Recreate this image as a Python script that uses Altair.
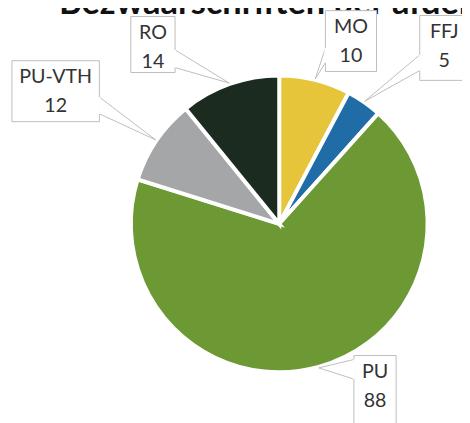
import altair as alt
import pandas as pd
import numpy as np

# ---- data ----
labels = ["MO", "FFJ", "PU", "PU-VTH", "RO"]
values = [10, 5, 88, 12, 14]
colors = ["#E6C53A", "#1F6CA6", "#6C9934", "#A4A6A8", "#1B2B20"]
title_text = "Bezwaarschriften per afdeling"

# ---- layout (pixels in chart coordinates) ----
W, H = 462, 415
CX, CY, R = 276, 216, 151
box_x1 = [323, 419, 352, 4, 125]
box_x2 = [375, 469, 395, 93, 170]
box_y1 = [-1, 4, 350, 50, 5]
box_y2 = [61, 70, 424, 112, 62]
base_side = ["left", "left", "left", "right", "right"]
base_ya = [37, 44, 354, 87, 39]
base_yb = [52, 60, 374, 104, 57]

df = pd.DataFrame({"label": labels, "value": values, "order": range(len(labels))})

# pointer tips at the middle angle of each slice, just on the rim
tot = float(sum(values))
cum = np.cumsum([0] + values[:-1])
mid = (cum + np.array(values) / 2.0) / tot * 2 * np.pi
tip_r = R + 1
tip_x = CX + tip_r * np.sin(mid)
tip_y = CY - tip_r * np.cos(mid)

boxes = pd.DataFrame({
    "label": labels,
    "val": [str(v) for v in values],
    "x1": box_x1, "x2": box_x2, "y1": box_y1, "y2": box_y2,
})
boxes["cx"] = (boxes.x1 + boxes.x2) / 2
boxes["ty1"] = boxes.y1 + 17
boxes["ty2"] = boxes.y1 + 46
boxes["bx"] = [x1 if s == "left" else x2 for x1, x2, s in zip(box_x1, box_x2, base_side)]
boxes["bya"] = base_ya
boxes["byb"] = base_yb

rows = []
for i, lab in enumerate(labels):
    bx = boxes.bx[i]
    rows.append({"label": lab, "k": 0, "x": bx, "y": base_ya[i]})
    rows.append({"label": lab, "k": 1, "x": tip_x[i], "y": tip_y[i]})
    rows.append({"label": lab, "k": 2, "x": bx, "y": base_yb[i]})
pointers = pd.DataFrame(rows)

pie = alt.Chart(df).mark_arc(outerRadius=R, stroke="white", strokeWidth=4).encode(
    theta=alt.Theta("value:Q", stack=True),
    order=alt.Order("order:Q"),
    color=alt.Color("label:N", scale=alt.Scale(domain=labels, range=colors), legend=None),
    x=alt.value(CX),
    y=alt.value(CY),
)

px = lambda f: alt.X(f, type="quantitative", scale=None, axis=None)
py = lambda f: alt.Y(f, type="quantitative", scale=None, axis=None)

rects = alt.Chart(boxes).mark_rect(fill="white", stroke="#BDBDBD", strokeWidth=1).encode(
    x=px("x1"), x2="x2", y=py("y1"), y2="y2"
)
gaps = alt.Chart(boxes).mark_rule(color="white", strokeWidth=2).encode(
    x=px("bx"), x2="bx", y=py("bya"), y2="byb"
)
lines = alt.Chart(pointers).mark_line(color="#BDBDBD", strokeWidth=1).encode(
    x=px("x"), y=py("y"), detail="label:N", order="k:Q"
)
name_txt = alt.Chart(boxes).mark_text(
    font="Lato", fontSize=20, color="#333333", baseline="middle", align="center"
).encode(x=px("cx"), y=py("ty1"), text="label:N")
val_txt = alt.Chart(boxes).mark_text(
    font="Lato", fontSize=20, color="#333333", baseline="middle", align="center"
).encode(x=px("cx"), y=py("ty2"), text="val:N")

title = alt.Chart(pd.DataFrame({"t": [title_text], "x": [52], "y": [2]})).mark_text(
    font="Lato", fontSize=35, fontWeight="bold", color="#111111",
    align="left", baseline="alphabetic"
).encode(x=px("x"), y=py("y"), text="t:N")

chart = alt.layer(pie, lines, title, rects, gaps, name_txt, val_txt).properties(
    width=W, height=H,
    autosize=alt.AutoSizeParams(type="none"),
    padding=0,
).configure_view(stroke=None)

chart.save("out.html", embed_options={"renderer": "svg", "actions": False})
